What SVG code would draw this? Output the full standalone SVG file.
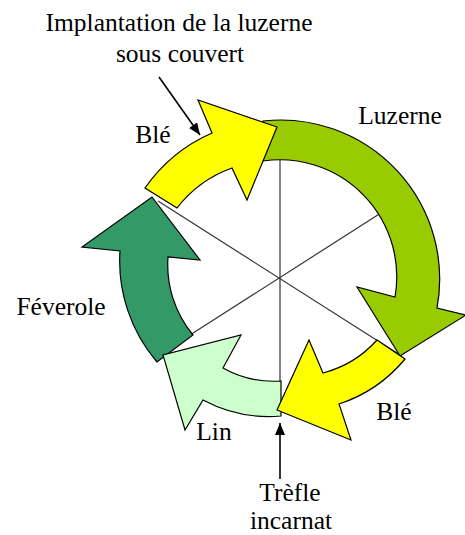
<svg xmlns="http://www.w3.org/2000/svg" width="465" height="535" viewBox="0 0 465 535">
<defs>
<marker id="ah" viewBox="0 0 12 10" refX="12" refY="5" markerWidth="12" markerHeight="10" markerUnits="userSpaceOnUse" orient="auto">
<path d="M0,0 L12,5 L0,10 Z" fill="#000"/>
</marker>
</defs>
<style>
text{font-family:"Liberation Serif","Times New Roman",serif;font-size:25.5px;fill:#000;text-anchor:middle}
.arr{stroke:#000;stroke-width:1.2;stroke-linejoin:miter}
.spoke{stroke:#333;stroke-width:1.2;fill:none}
.conn{stroke:#000;stroke-width:1.6;fill:none;marker-end:url(#ah)}
</style>
<rect width="465" height="535" fill="#fff"/>
<g id="spokes">
<line class="spoke" x1="280" y1="160" x2="280" y2="416"/>
<line class="spoke" x1="158" y1="201" x2="400" y2="355"/>
<line class="spoke" x1="190" y1="335" x2="384" y2="211"/>
</g>
<g id="feverole">
<path class="arr" fill="#339966" d="M157,362 A155,155 0 0 1 120,251 L82,247 L152,197 L200,260 L168,257 A110,110 0 0 0 193,335 Z"/>
<text x="61" y="315">Féverole</text>
</g>
<g id="lin">
<path class="arr" fill="#CCFFCC" d="M281,416 A140,140 0 0 1 203,400 L185,430 L163,355 L241,335 L223,368 A104,104 0 0 0 281,381 Z"/>
<text x="214" y="440">Lin</text>
</g>
<g id="luzerne">
<path class="arr" fill="#99CC00" d="M263,121 A159,159 0 0 1 437,308 L466,315 L400,356 L357,287 L395,297 A117,117 0 0 0 263,161 Z"/>
<text x="400" y="124">Luzerne</text>
</g>
<g id="ble2">
<path class="arr" fill="#FFFF00" d="M405,359 A144,144 0 0 1 339,404 L351,440 L277,410 L309,340 L323,373 A110,110 0 0 0 377,340 Z"/>
<text x="394" y="420">Blé</text>
</g>
<g id="ble1">
<path class="arr" fill="#FFFF00" d="M145,188 A160,160 0 0 1 212,133 L198,100 L277,127 L247,200 L232,168 A121,121 0 0 0 177,208 Z"/>
<text x="153" y="143">Blé</text>
</g>
<g id="implantation">
<text x="179" y="31">Implantation de la luzerne</text>
<text x="180" y="62">sous couvert</text>
</g>
<g id="trefle">
<text x="290" y="501">Trèfle</text>
<text x="291" y="529">incarnat</text>
</g>
<g id="connectors">
<line class="conn" x1="159" y1="77" x2="200" y2="135"/>
<line class="conn" x1="280" y1="479" x2="280" y2="423"/>
</g>
</svg>
